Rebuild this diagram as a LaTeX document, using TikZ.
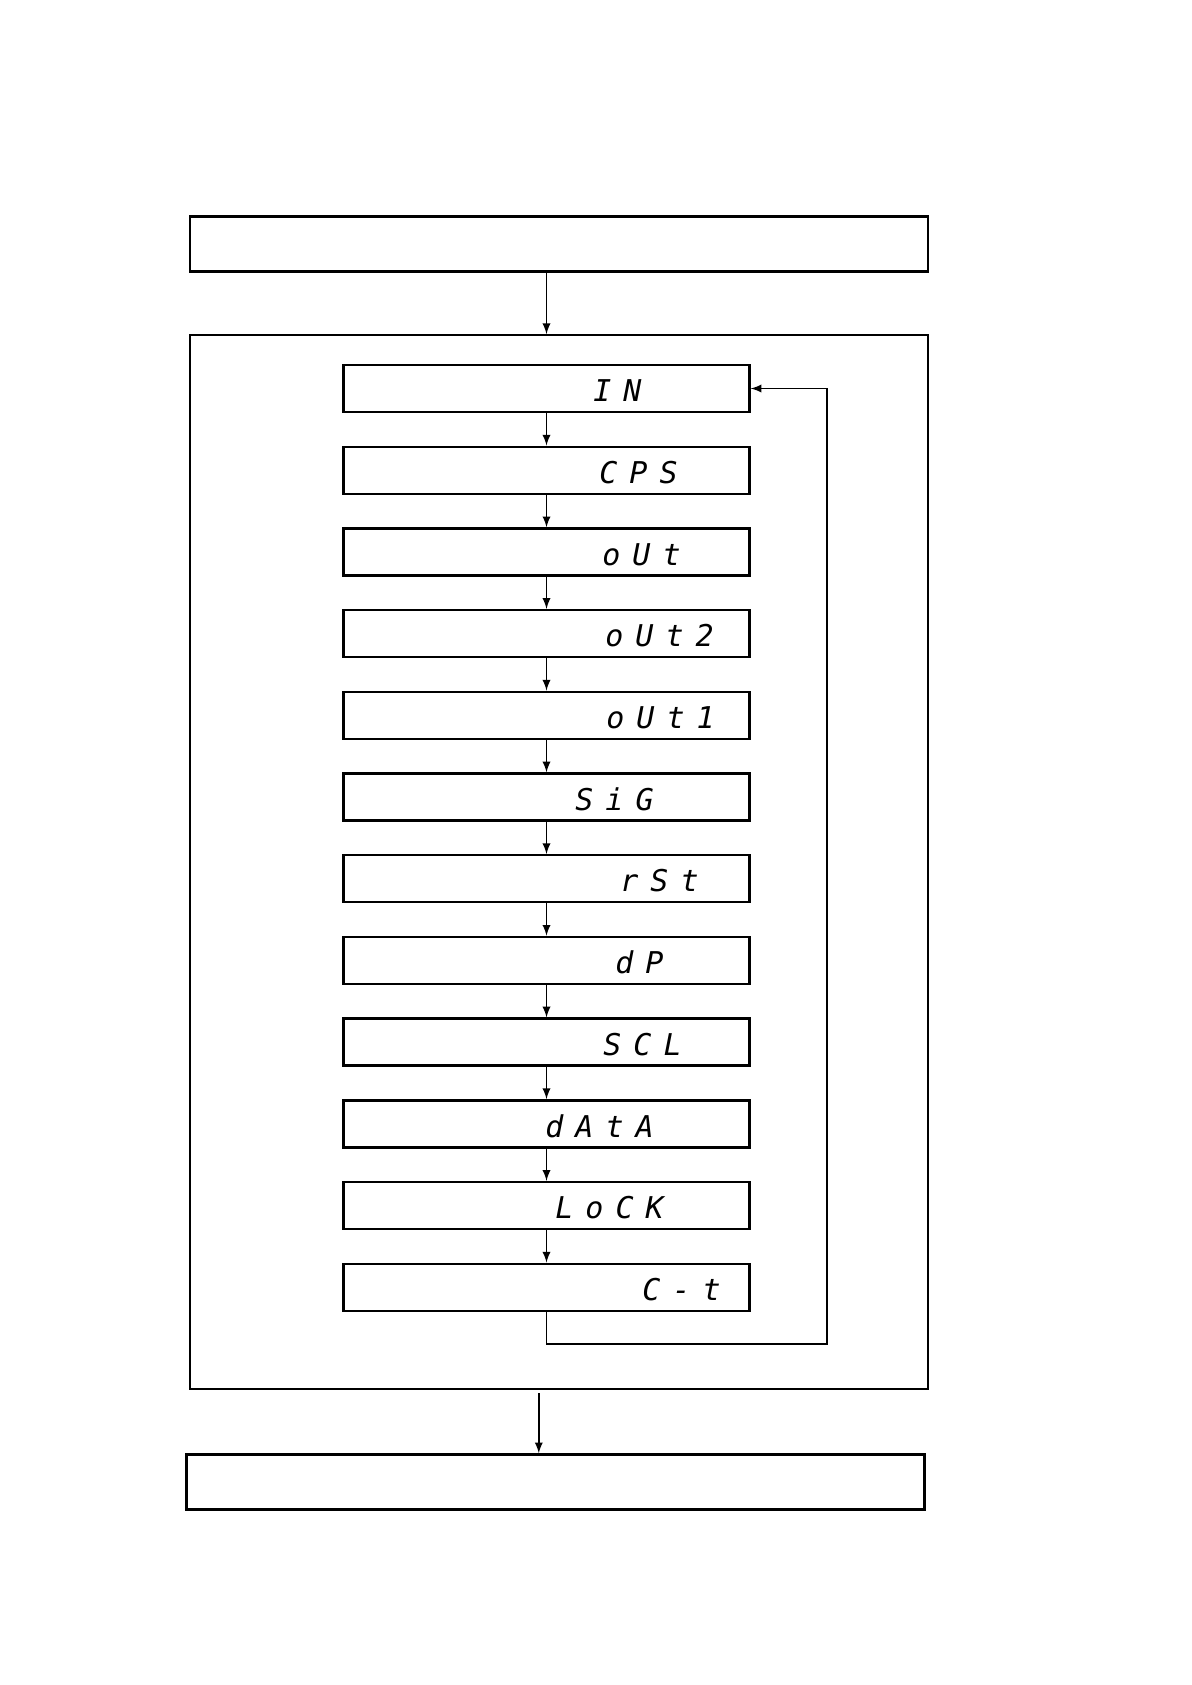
\documentclass[tikz,border=0pt]{standalone}
\usepackage{fontspec}
\newfontfamily\segfont[LetterSpace=40]{DejaVu Sans Mono}
\usetikzlibrary{calc, positioning}

\begin{document}
\begin{tikzpicture}[
                x=0.5pt, y=-0.5pt,
                >=latex,
                frame/.style={draw=black, line width=1.3pt, minimum width=369pt, minimum height=27.5pt, inner sep=0pt},
                group/.style={draw=black, line width=0.9pt, minimum width=369pt, minimum height=527pt, inner sep=0pt},
                stage/.style={draw=black, line width=1.2pt, minimum width=203pt, minimum height=23.5pt, inner sep=0pt},
                display/.style={anchor=base west, inner sep=0pt, font=\segfont\itshape\fontsize{15pt}{15pt}\selectfont},
                link/.style={->, line width=0.85pt}
            ]

            \useasboundingbox (0,0) rectangle (1192,1685);

            % Outer frames
            \node[frame] (start) at (559,244) {};
            \node[group] (menu) at (559,862) {};
            \node[frame] (finish) at (555.5,1482) {};

            % Menu stages
            \node[stage] (S-1) at (546.5,388.5) {};
            \node[stage] (S-2) at (546.5,470.2) {};
            \node[stage] (S-3) at (546.5,551.9) {};
            \node[stage] (S-4) at (546.5,633.6) {};
            \node[stage] (S-5) at (546.5,715.3) {};
            \node[stage] (S-6) at (546.5,797.0) {};
            \node[stage] (S-7) at (546.5,878.7) {};
            \node[stage] (S-8) at (546.5,960.4) {};
            \node[stage] (S-9) at (546.5,1042.1) {};
            \node[stage] (S-10) at (546.5,1123.8) {};
            \node[stage] (S-11) at (546.5,1205.5) {};
            \node[stage] (S-12) at (546.5,1287.2) {};

            % Display codes
            \node[display] (D-1) at (593,401) {IN};
            \node[display] (D-2) at (599,483) {CPS};
            \node[display] (D-3) at (602,565) {oUt};
            \node[display] (D-4) at (605,646) {oUt2};
            \node[display] (D-5) at (606,728) {oUt1};
            \node[display] (D-6) at (575,810) {SiG};
            \node[display] (D-7) at (620,891) {rSt};
            \node[display] (D-8) at (615,973) {dP};
            \node[display] (D-9) at (603,1055) {SCL};
            \node[display] (D-10) at (545,1137) {dAtA};
            \node[display] (D-11) at (555,1218) {LoCK};
            \node[display] (D-12) at (642,1300) {C-t};

            % Connections between stages
            \foreach \i [count=\j from 2] in {1,...,11}
            \draw[link] (S-\i) -- (S-\j);

            % Loop back to the first stage
            \coordinate (loop) at (826.7,1344);
            \draw[link] (S-12.south) |- (loop) |- (S-1.east);

            % In and out of the menu
            \draw[link] (start.south -| S-1.north) -- (menu.north -| S-1.north);
            \coordinate (drop) at (538.8,1393);
            \draw[link] (drop) -- (drop |- finish.north);

        \end{tikzpicture}
\end{document}
